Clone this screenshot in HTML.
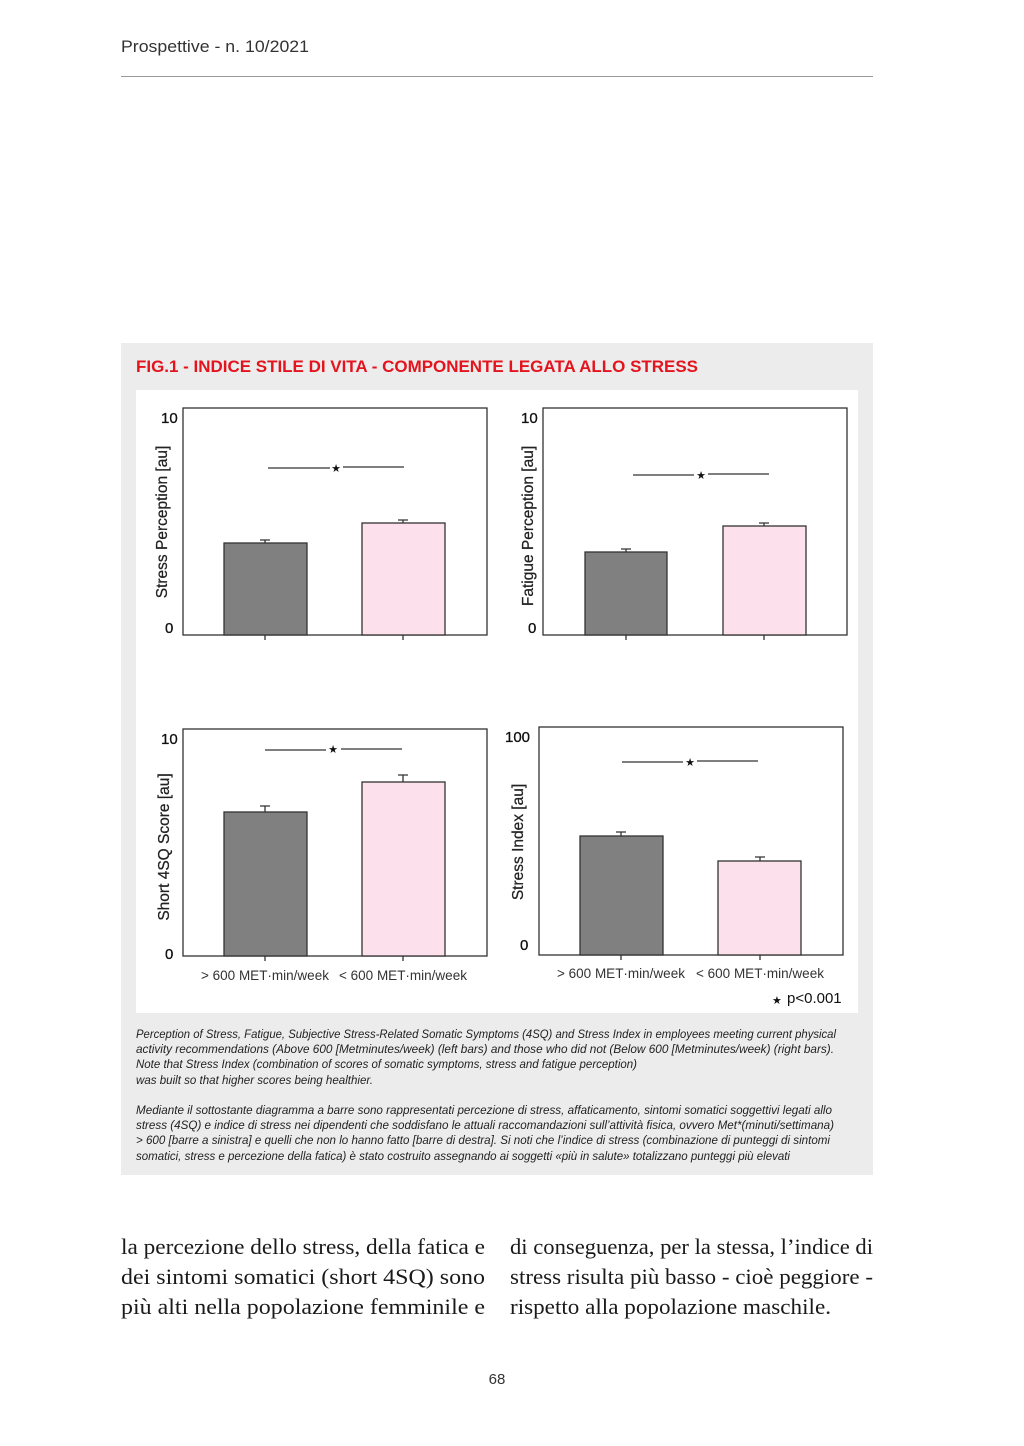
<!DOCTYPE html>
<html><head><meta charset="utf-8"><style>html,body{margin:0;padding:0;background:#fff}svg{display:block}</style></head>
<body>
<svg width="1024" height="1446" viewBox="0 0 1024 1446" xmlns="http://www.w3.org/2000/svg" font-family="Liberation Sans, sans-serif">
<text x="121" y="52" font-size="17" fill="#333" textLength="188" lengthAdjust="spacingAndGlyphs">Prospettive - n. 10/2021</text>
<line x1="121" y1="76.5" x2="873" y2="76.5" stroke="#999" stroke-width="1"/>
<rect x="121" y="343" width="752" height="832" fill="#ececec"/>
<text x="136" y="372" font-size="17" font-weight="bold" fill="#e3141d" textLength="562" lengthAdjust="spacingAndGlyphs">FIG.1 - INDICE STILE DI VITA - COMPONENTE LEGATA ALLO STRESS</text>
<rect x="136" y="390" width="722" height="623" fill="#fff"/>
<g stroke="#333" fill="none" stroke-width="1.3">
<rect x="183" y="408" width="304" height="227"/>
<rect x="543" y="408" width="304" height="227"/>
<rect x="183" y="729" width="304" height="227"/>
<rect x="539" y="727" width="304" height="228"/>
<path d="M265 635v5M403 635v5M626 635v5M764 635v5M265 956v5M403 956v5M621 955v5M760 955v5"/>
</g>
<g stroke="#333" stroke-width="1.3">
<rect x="224" y="543" width="83" height="92" fill="#808080"/>
<rect x="362" y="523" width="83" height="112" fill="#fce0ec"/>
<rect x="585" y="552" width="82" height="83" fill="#808080"/>
<rect x="723" y="526" width="83" height="109" fill="#fce0ec"/>
<rect x="224" y="812" width="83" height="144" fill="#808080"/>
<rect x="362" y="782" width="83" height="174" fill="#fce0ec"/>
<rect x="580" y="836" width="83" height="119" fill="#808080"/>
<rect x="718" y="861" width="83" height="94" fill="#fce0ec"/>
<path fill="none" d="M265 543v-3M260 540h10M403 523v-3M398 520h10M626 552v-3M621 549h10M764 526v-3M759 523h10M265 812v-6M260 806h10M403 782v-7M398 775h10M621 836v-4M616 832h10M760 861v-4M755 857h10"/>
<path fill="none" stroke-width="1.2" d="M268 468h62M343 467h61M633 475h61M708 474h61M265 750h61M341 749h61M622 762h61M697 761h61"/>
</g>
<g font-size="11" text-anchor="middle" fill="#111"><text x="336" y="472">★</text><text x="701" y="479">★</text><text x="333" y="753">★</text><text x="690" y="766">★</text></g>
<g font-size="15" fill="#111" stroke="#111" stroke-width="0.3">
<text x="161" y="423">10</text><text x="165" y="633">0</text>
<text x="521" y="423">10</text><text x="528" y="633">0</text>
<text x="161" y="744">10</text><text x="165" y="959">0</text>
<text x="505" y="742">100</text><text x="520" y="950">0</text>
</g>
<g font-size="15.5" fill="#222" text-anchor="middle" stroke="#222" stroke-width="0.25">
<text transform="translate(167,522) rotate(-90)">Stress Perception [au]</text>
<text transform="translate(533,526) rotate(-90)">Fatigue Perception [au]</text>
<text transform="translate(169,847) rotate(-90)">Short 4SQ Score [au]</text>
<text transform="translate(523,842) rotate(-90)">Stress Index [au]</text>
</g>
<g font-size="13.5" fill="#333" text-anchor="middle">
<text x="265" y="980">&gt; 600 MET·min/week</text><text x="403" y="980">&lt; 600 MET·min/week</text>
<text x="621" y="978">&gt; 600 MET·min/week</text><text x="760" y="978">&lt; 600 MET·min/week</text>
</g>
<text x="772" y="1004" font-size="11" fill="#111">★</text>
<text x="787" y="1003" font-size="15" fill="#111">p&lt;0.001</text>
<g font-size="11.5" font-style="italic" fill="#222">
<text x="136" y="1038" textLength="700" lengthAdjust="spacingAndGlyphs">Perception of Stress, Fatigue, Subjective Stress-Related Somatic Symptoms (4SQ) and Stress Index in employees meeting current physical</text>
<text x="136" y="1053" textLength="698" lengthAdjust="spacingAndGlyphs">activity recommendations (Above 600 [Metminutes/week) (left bars) and those who did not (Below 600 [Metminutes/week) (right bars).</text>
<text x="136" y="1068" textLength="501" lengthAdjust="spacingAndGlyphs">Note that Stress Index (combination of scores of somatic symptoms, stress and fatigue perception)</text>
<text x="136" y="1084" textLength="237" lengthAdjust="spacingAndGlyphs">was built so that higher scores being healthier.</text>
<text x="136" y="1114" textLength="696" lengthAdjust="spacingAndGlyphs">Mediante il sottostante diagramma a barre sono rappresentati percezione di stress, affaticamento, sintomi somatici soggettivi legati allo</text>
<text x="136" y="1129" textLength="698" lengthAdjust="spacingAndGlyphs">stress (4SQ) e indice di stress nei dipendenti che soddisfano le attuali raccomandazioni sull’attività fisica, ovvero Met*(minuti/settimana)</text>
<text x="136" y="1144" textLength="694" lengthAdjust="spacingAndGlyphs">&gt; 600 [barre a sinistra]  e quelli che non lo hanno fatto [barre di destra]. Si noti che l’indice di stress (combinazione di punteggi di sintomi</text>
<text x="136" y="1160" textLength="654" lengthAdjust="spacingAndGlyphs">somatici, stress e percezione della fatica) è stato costruito assegnando ai soggetti «più in salute» totalizzano punteggi più elevati</text>
</g>
<g font-family="Liberation Serif, serif" font-size="22" fill="#1a1a1a">
<text x="121" y="1254" textLength="364" lengthAdjust="spacingAndGlyphs">la percezione dello stress, della fatica e</text>
<text x="121" y="1284" textLength="364" lengthAdjust="spacingAndGlyphs">dei sintomi somatici (short 4SQ) sono</text>
<text x="121" y="1314" textLength="364" lengthAdjust="spacingAndGlyphs">più alti nella popolazione femminile e</text>
<text x="510" y="1254" textLength="363" lengthAdjust="spacingAndGlyphs">di conseguenza, per la stessa, l’indice di</text>
<text x="510" y="1284" textLength="363" lengthAdjust="spacingAndGlyphs">stress risulta più basso - cioè peggiore -</text>
<text x="510" y="1314" textLength="321" lengthAdjust="spacingAndGlyphs">rispetto alla popolazione maschile.</text>
</g>
<text x="497" y="1384" font-size="15" fill="#333" text-anchor="middle">68</text>
</svg>
</body></html>
